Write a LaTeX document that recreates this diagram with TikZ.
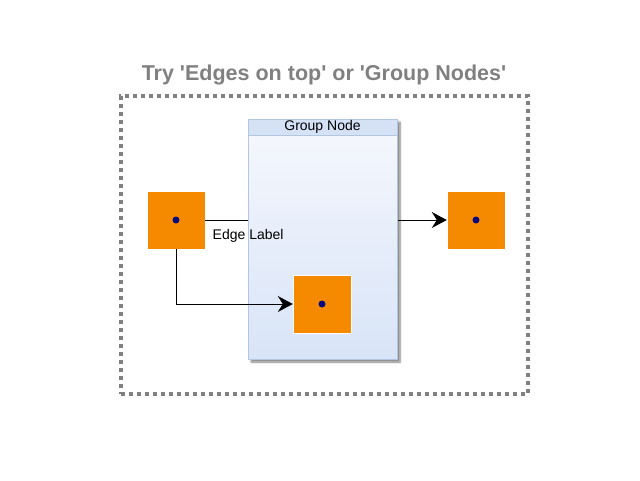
\documentclass[tikz,border=0pt]{standalone}
\usepackage{fontspec}
\setmainfont{Liberation Sans}
\usetikzlibrary{arrows.meta, positioning, shadows.blur}
\definecolor{leaforange}{HTML}{F58A00}
\definecolor{dotblue}{HTML}{0A0A80}
\definecolor{groupborder}{HTML}{B3C6E0}
\definecolor{grouptop}{HTML}{F6F8FD}
\definecolor{groupbottom}{HTML}{D8E4F7}
\definecolor{groupheader}{HTML}{D5E2F6}
\definecolor{framegray}{HTML}{808080}

\begin{document}
\begin{tikzpicture}[x = 1pt, y = -1pt,
        leaf/.style = {draw = white, fill = leaforange, minimum size = 58pt, inner sep = 0pt},
        link/.style = {draw = black, line width = 1pt, -{Stealth[length = 15pt, width = 16pt, inset = 5pt]}},
        every node/.append style = {font = \fontsize{14}{16}\selectfont}]
    \useasboundingbox (0,0) rectangle (640,480);

    % frame and title
    \node[draw = framegray, line width = 4pt, dash pattern = on 4pt off 4pt,
        minimum width = 407pt, minimum height = 298pt] (frame) at (324.5,245) {};
    \node[text = framegray, font = \fontsize{21.5}{24}\bfseries\selectfont] (title) at (324,75)
        {Try \textquotesingle Edges on top\textquotesingle{} or \textquotesingle Group Nodes\textquotesingle};

    % leaves
    \node[leaf] (source) at (176,220) {};
    \node[leaf] (target) at (476,220) {};

    % edge below the group
    \draw[link] (source) -- (target);

    % group node
    \node[draw = groupborder, top color = grouptop, bottom color = groupbottom,
        minimum width = 149pt, minimum height = 240pt, inner sep = 0pt,
        blur shadow = {shadow xshift = 3pt, shadow yshift = -3pt, shadow blur steps = 6,
            shadow blur radius = 2pt, shadow opacity = 50}] (group) at (322.5,239) {};
    \node[anchor = north, draw = groupborder, fill = groupheader, minimum width = 149pt,
        minimum height = 16pt, inner sep = 0pt] (header) at (group.north) {Group Node};

    \node[anchor = west, xshift = 4pt, yshift = -16pt] (edgelabel) at (source.east) {Edge Label};

    \node[leaf] (inner) at (322,304) {};

    % edge into the group
    \draw[link] (source) |- (inner);

    \foreach \n in {source, target, inner} {
        \fill[dotblue] (\n) circle (3.5pt);
    }
\end{tikzpicture}
\end{document}
